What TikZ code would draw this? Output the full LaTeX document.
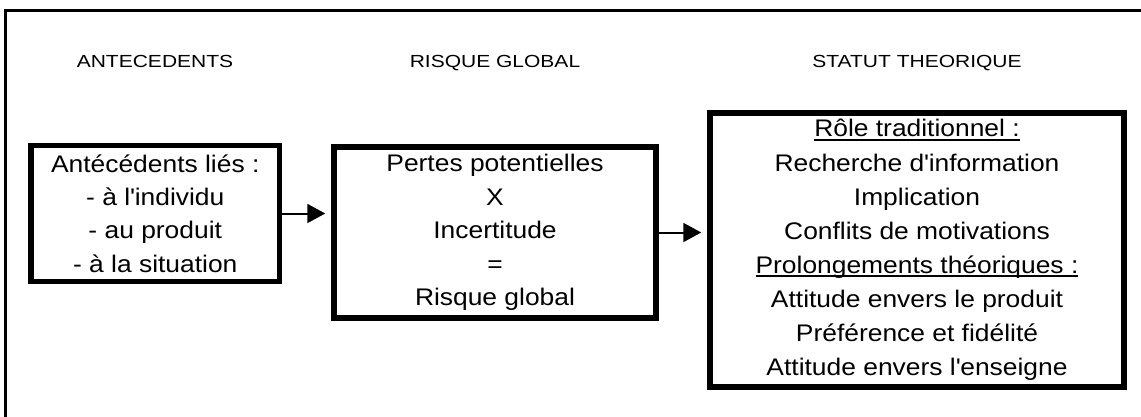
\documentclass[tikz,border=0pt]{standalone}
\usepackage{fontspec}
\setmainfont{Liberation Sans}
\newfontfamily\bodyf{Liberation Sans}[FakeStretch=1.1]
\newfontfamily\headf{Liberation Sans}[FakeStretch=1.2]
\usetikzlibrary{arrows.meta}
\newcommand\myul[1]{\leavevmode\setbox0\hbox{#1}\rlap{\vrule height -2pt depth 4pt width \wd0}\box0}
\tikzset{
  boxnode/.style={draw, line width=5.5pt, inner sep=0pt, align=center},
  headnode/.style={anchor=base, inner sep=0pt, font=\headf\fontsize{17.5}{21}\selectfont},
  conn/.style={line width=2pt, -{Triangle[length=18pt,width=19pt]}, shorten >=6pt},
}
\begin{document}
\begin{tikzpicture}[x=1pt,y=-1pt]
\useasboundingbox (0,0) rectangle (1141,416);
\draw[line width=3pt] (5.5,425) -- (5.5,10.5) -- (1150,10.5);

\node[headnode] (h1) at (155,67) {ANTECEDENTS};
\node[headnode] (h2) at (495,67) {RISQUE GLOBAL};
\node[headnode] (h3) at (917,67) {STATUT THEORIQUE};

\node[boxnode, minimum width=248.5pt, minimum height=136pt,
  font=\bodyf\fontsize{24}{33.3}\selectfont] (b1) at (155.25,213.5)
  {Antécédents liés :\\- à l\textquotesingle individu\\- au produit\\- à la situation};

\node[boxnode, minimum width=322pt, minimum height=171pt,
  font=\bodyf\fontsize{24}{33.5}\selectfont] (b2) at (495,232.5)
  {Pertes potentielles\\X\\Incertitude\\=\\Risque global};

\node[boxnode, minimum width=414pt, minimum height=274pt,
  font=\bodyf\fontsize{24}{34.1}\selectfont] (b3) at (917,250)
  {\myul{Rôle traditionnel :}\\Recherche d\textquotesingle information\\Implication\\Conflits de motivations\\\myul{Prolongements théoriques :}\\Attitude envers le produit\\Préférence et fidélité\\Attitude envers l\textquotesingle enseigne};

\draw[conn] (b1.east) -- (b1.east -| b2.west);
\draw[conn] (b2.east) -- (b2.east -| b3.west);
\end{tikzpicture}
\end{document}
